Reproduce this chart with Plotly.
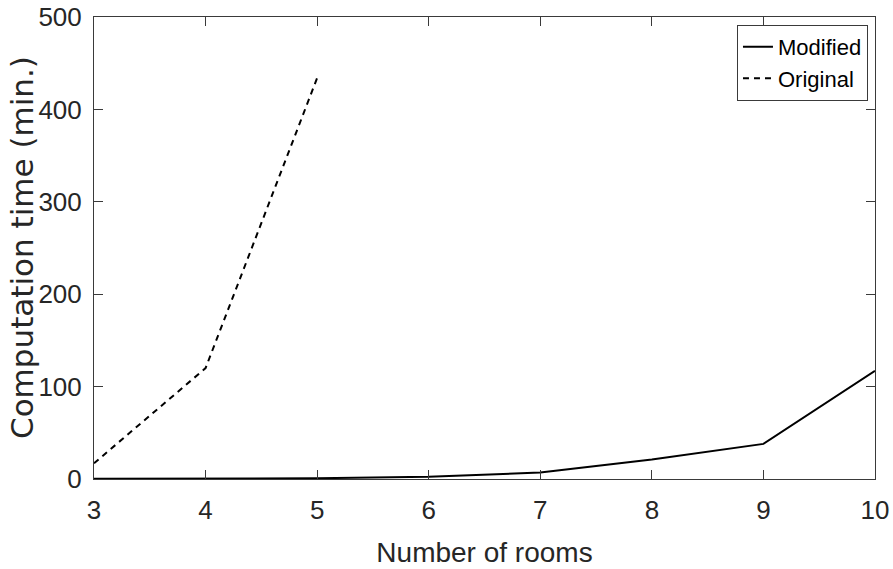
import plotly.graph_objects as go

rooms = [3, 4, 5, 6, 7, 8, 9, 10]
modified_minutes = [0.2, 0.4, 0.8, 2.5, 7, 21, 38, 117]
original_rooms = [3, 4, 5]
original_minutes = [17, 120, 434]
x_ticks = [3, 4, 5, 6, 7, 8, 9, 10]
y_ticks = [0, 100, 200, 300, 400, 500]

SANS = "Liberation Sans, Arial, sans-serif"
TXT = "#262626"
AX = "#3a3a3a"

W, H = 893, 569
ML, MR, MT, MB = 94, 18, 17, 90
PLOT_W = W - ML - MR

fig = go.Figure()
fig.add_trace(go.Scatter(x=rooms, y=modified_minutes, mode="lines", name="Modified",
                         line=dict(color="black", width=2)))
fig.add_trace(go.Scatter(x=original_rooms, y=original_minutes, mode="lines", name="Original",
                         line=dict(color="black", width=2, dash="6px,5px")))

fig.update_layout(
    width=W, height=H,
    margin=dict(l=ML, r=MR, t=MT, b=MB, autoexpand=False),
    paper_bgcolor="white", plot_bgcolor="white",
    font=dict(family=SANS, color=TXT, size=26),
    showlegend=True,
    legend=dict(x=0.991, y=0.983, xanchor="right", yanchor="top",
                bgcolor="white", bordercolor=AX, borderwidth=1,
                font=dict(family=SANS, size=22, color="black"),
                tracegroupgap=0, itemwidth=30),
    xaxis=dict(range=[3, 10], tickvals=x_ticks, ticktext=[str(v) for v in x_ticks],
               automargin=False, ticklabeloverflow="allow",
               showgrid=False, zeroline=False, showline=True, linecolor=AX, linewidth=1,
               mirror="ticks", ticks="inside", ticklen=9, tickcolor=AX, tickwidth=1,
               tickfont=dict(family=SANS, size=26, color=TXT), ticklabelstandoff=8,
               title=dict(text="Number of rooms", font=dict(family=SANS, size=28, color=TXT),
                          standoff=18)),
    yaxis=dict(range=[0, 500], tickvals=y_ticks, ticktext=[str(v) for v in y_ticks],
               automargin=False, ticklabeloverflow="allow",
               showgrid=False, zeroline=False, showline=True, linecolor=AX, linewidth=1,
               mirror="ticks", ticks="inside", ticklen=9, tickcolor=AX, tickwidth=1,
               tickfont=dict(family=SANS, size=26, color=TXT), ticklabelstandoff=6),
    annotations=[dict(text="Computation time (min.)", textangle=-90,
                      xref="paper", yref="paper", x=-72 / PLOT_W, y=0.5,
                      xanchor="center", yanchor="middle", showarrow=False,
                      font=dict(family="DejaVu Sans, Arial, sans-serif", size=31, color=TXT))],
)

fig.write_html("out.html", config={"displayModeBar": False},
               post_script="document.body.style.margin='0';document.body.style.overflow='hidden';")
